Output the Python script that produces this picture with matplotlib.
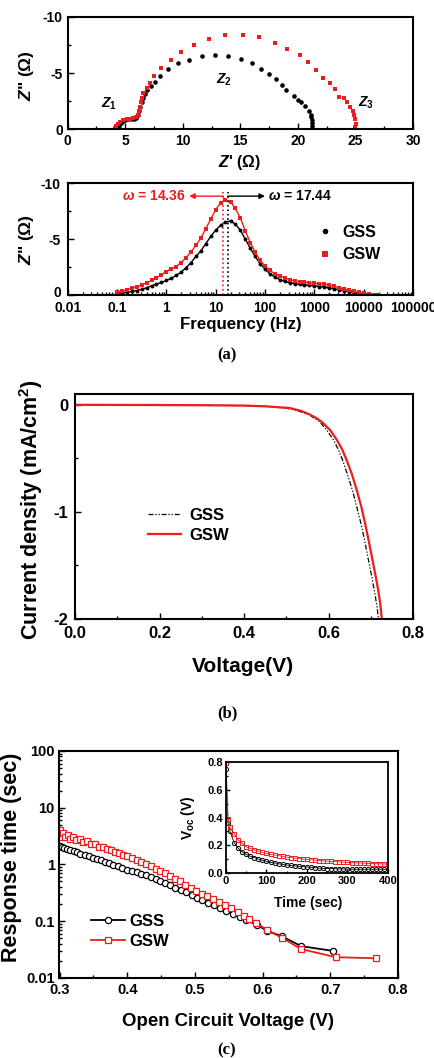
import matplotlib
matplotlib.use("Agg")
import matplotlib.pyplot as plt
import matplotlib.transforms as mtransforms
from matplotlib.ticker import FixedLocator, FixedFormatter, MultipleLocator, LogLocator, NullFormatter
from matplotlib.lines import Line2D

plt.rcParams['font.family'] = ['Liberation Sans', 'DejaVu Sans']
plt.rcParams['font.weight'] = 'bold'
plt.rcParams['mathtext.fontset'] = 'custom'
plt.rcParams['mathtext.rm'] = 'Liberation Sans:bold'
plt.rcParams['mathtext.it'] = 'Liberation Sans:bold:italic'
plt.rcParams['mathtext.bf'] = 'Liberation Sans:bold'

# ---------------- Panel (a) top: Nyquist ----------------
nyq_gss_re = [4.35, 4.45, 4.6, 4.8, 5.0, 5.25, 5.5, 5.75, 5.95, 6.1, 6.2, 6.3, 6.42, 6.55, 6.7, 6.86,
              7.2, 7.58, 8.02, 8.7, 9.6, 10.56, 11.63, 12.8, 13.97, 15.04, 16.05, 16.78, 17.5, 18.14,
              18.66, 19.0, 19.64, 20.05, 20.3, 20.6, 20.97, 21.1, 21.17, 21.2, 21.23, 21.23]
nyq_gss_im = [0.0, -0.3, -0.55, -0.72, -0.82, -0.88, -0.9, -0.95, -1.05, -1.3, -1.65, -2.0, -2.4, -2.8, -3.15, -3.5,
              -3.9, -4.22, -4.73, -5.35, -5.86, -6.21, -6.5, -6.66, -6.5, -6.24, -5.86, -5.33, -4.91, -4.44,
              -3.96, -3.49, -2.96, -2.6, -2.46, -2.07, -1.63, -1.3, -1.12, -0.8, -0.53, -0.3]
nyq_gsw_re = [4.12, 4.2, 4.35, 4.54, 4.8, 5.12, 5.4, 5.7, 5.95, 6.13, 6.2, 6.28, 6.36, 6.43, 6.57, 6.86,
              7.15, 7.5, 8.1, 8.94, 9.83, 11.0, 12.24, 13.68, 15.19, 16.63, 17.99, 19.09, 20.16, 20.88,
              21.6, 22.2, 22.8, 23.2, 23.6, 24.0, 24.3, 24.55, 24.75, 24.9, 25.0, 25.05, 24.95]
nyq_gsw_im = [-0.09, -0.3, -0.5, -0.67, -0.8, -0.89, -0.93, -0.98, -1.1, -1.27, -1.6, -2.0, -2.4, -2.75, -3.2, -3.64,
              -4.14, -4.73, -5.5, -6.21, -6.89, -7.54, -8.02, -8.4, -8.4, -8.25, -7.72, -7.19, -6.66, -5.95,
              -5.27, -4.6, -4.1, -3.55, -2.9, -2.75, -2.4, -2.0, -1.6, -1.25, -0.9, -0.5, -0.2]

# ---------------- Panel (a) bottom: Bode ----------------
freq = [0.1, 0.126, 0.158, 0.2, 0.251, 0.316, 0.398, 0.501, 0.631, 0.794,
        1.0, 1.26, 1.58, 2.0, 2.51, 3.16, 3.98, 5.01, 6.31, 7.94,
        10.0, 12.6, 15.8, 20.0, 25.1, 31.6, 39.8, 50.1, 63.1, 79.4,
        100, 126, 158, 200, 251, 316, 398, 501, 631, 794,
        1000, 1259, 1585, 1995, 2512, 3162, 3981, 5012, 6310, 7943,
        10000, 12589, 15849, 19953]
bode_gss = [-0.15, -0.2, -0.25, -0.32, -0.4, -0.5, -0.65, -0.82, -0.98, -1.12,
            -1.3, -1.5, -1.75, -2.05, -2.45, -2.9, -3.45, -3.95, -4.6, -5.25,
            -5.8, -6.25, -6.55, -6.62, -6.35, -5.8, -5.0, -4.2, -3.45, -2.8,
            -2.3, -1.9, -1.6, -1.38, -1.22, -1.1, -1.02, -0.95, -0.9, -0.86,
            -0.82, -0.76, -0.7, -0.63, -0.55, -0.47, -0.38, -0.3, -0.22, -0.15,
            -0.09, -0.05, -0.02, 0.0]
bode_gsw = [-0.28, -0.36, -0.46, -0.6, -0.75, -0.9, -1.1, -1.3, -1.55, -1.82,
            -2.1, -2.35, -2.55, -2.9, -3.35, -3.85, -4.45, -5.1, -5.95, -6.8,
            -7.65, -8.25, -8.5, -8.35, -7.75, -6.9, -5.75, -4.7, -3.85, -3.1,
            -2.6, -2.2, -1.9, -1.7, -1.52, -1.38, -1.26, -1.18, -1.12, -1.08,
            -1.05, -1.0, -0.95, -0.88, -0.78, -0.66, -0.54, -0.43, -0.33, -0.23,
            -0.15, -0.09, -0.03, 0.0]
omega_gss = 17.44
omega_gsw = 14.36

# ---------------- Panel (b): J-V ----------------
jv_v_gss = [0.0, 0.1, 0.2, 0.3, 0.4, 0.45, 0.5, 0.53, 0.556, 0.579, 0.595, 0.611, 0.623, 0.634, 0.646,
            0.658, 0.668, 0.678, 0.686, 0.694, 0.702, 0.709, 0.714, 0.717, 0.72]
jv_j_gss = [-0.001, -0.002, -0.003, -0.005, -0.008, -0.015, -0.032, -0.06, -0.1, -0.16, -0.235, -0.327, -0.42, -0.53, -0.67,
            -0.825, -0.98, -1.137, -1.29, -1.45, -1.61, -1.76, -1.88, -1.98, -2.05]
jv_v_gsw = [0.0, 0.1, 0.2, 0.3, 0.4, 0.45, 0.508, 0.535, 0.556, 0.573, 0.587, 0.604, 0.619, 0.631, 0.642,
            0.655, 0.666, 0.677, 0.686, 0.694, 0.702, 0.71, 0.717, 0.722, 0.725, 0.728]
jv_j_gsw = [-0.001, -0.002, -0.003, -0.005, -0.008, -0.015, -0.031, -0.058, -0.093, -0.13, -0.171, -0.24, -0.327, -0.41, -0.514,
            -0.65, -0.794, -0.95, -1.106, -1.26, -1.418, -1.58, -1.73, -1.86, -1.98, -2.05]

# ---------------- Panel (c): response time ----------------
voc_gss = [0.300, 0.303, 0.307, 0.311, 0.316, 0.321, 0.326, 0.331, 0.337, 0.343, 0.349, 0.355, 0.361, 0.367,
           0.373, 0.379, 0.386, 0.393, 0.400, 0.407, 0.414, 0.421, 0.428, 0.435, 0.442, 0.449, 0.456, 0.463,
           0.471, 0.479, 0.487, 0.495, 0.503, 0.511, 0.519, 0.528, 0.537, 0.546, 0.556, 0.566, 0.576, 0.591,
           0.607, 0.628, 0.657, 0.704]
tau_gss = [2.1, 2.0, 1.93, 1.86, 1.78, 1.7, 1.62, 1.55, 1.46, 1.38, 1.31, 1.24, 1.17, 1.1,
           1.04, 0.98, 0.92, 0.86, 0.81, 0.76, 0.72, 0.68, 0.64, 0.6, 0.56, 0.51, 0.47, 0.43,
           0.39, 0.35, 0.32, 0.29, 0.26, 0.235, 0.21, 0.19, 0.17, 0.15, 0.135, 0.118, 0.103, 0.086,
           0.067, 0.054, 0.036, 0.0297]
voc_gsw = [0.300, 0.302, 0.305, 0.308, 0.312, 0.316, 0.320, 0.325, 0.330, 0.335, 0.340, 0.346, 0.352, 0.358,
           0.364, 0.370, 0.376, 0.382, 0.388, 0.394, 0.400, 0.407, 0.414, 0.421, 0.428, 0.435, 0.442, 0.449,
           0.456, 0.463, 0.470, 0.478, 0.486, 0.494, 0.502, 0.510, 0.518, 0.527, 0.536, 0.545, 0.554, 0.564,
           0.572, 0.580, 0.590, 0.607, 0.628, 0.657, 0.708, 0.768]
tau_gsw = [4.0, 3.1, 3.6, 3.0, 3.3, 2.85, 3.05, 2.7, 2.8, 2.5, 2.55, 2.3, 2.3, 2.05,
           2.05, 1.85, 1.8, 1.65, 1.6, 1.48, 1.42, 1.3, 1.2, 1.1, 1.0, 0.92, 0.84, 0.76,
           0.69, 0.62, 0.56, 0.5, 0.44, 0.39, 0.345, 0.305, 0.275, 0.245, 0.215, 0.19, 0.168, 0.145,
           0.125, 0.108, 0.093, 0.069, 0.051, 0.032, 0.023, 0.022]

# inset: Voc decay
t_decay = [0, 5, 10, 20, 30, 40, 50, 60, 70, 80, 90, 100, 110, 120, 130, 140, 150, 160, 170, 180,
           190, 200, 210, 220, 230, 240, 250, 260, 270, 280, 290, 300, 310, 320, 330, 340, 350, 360,
           370, 380, 390, 400]
vdecay_gss = [0.75, 0.36, 0.3, 0.22, 0.18, 0.153, 0.135, 0.122, 0.112, 0.102, 0.093, 0.086, 0.079, 0.074,
              0.068, 0.064, 0.059, 0.056, 0.053, 0.05, 0.047, 0.045, 0.042, 0.04, 0.037, 0.035, 0.034,
              0.033, 0.032, 0.031, 0.031, 0.03, 0.029, 0.029, 0.029, 0.029, 0.029, 0.029, 0.029, 0.029,
              0.029, 0.029]
vdecay_gsw = [0.79, 0.39, 0.33, 0.285, 0.24, 0.215, 0.19, 0.178, 0.168, 0.16, 0.15, 0.143, 0.136, 0.131,
              0.126, 0.121, 0.116, 0.112, 0.109, 0.106, 0.102, 0.1, 0.097, 0.094, 0.091, 0.089, 0.087,
              0.085, 0.083, 0.082, 0.08, 0.078, 0.077, 0.075, 0.074, 0.073, 0.071, 0.07, 0.069, 0.068,
              0.067, 0.066]

RED = '#ee1c1c'
W, H = 435.0, 1058.0

fig = plt.figure(figsize=(4.35, 10.58), dpi=100)


def rect(l, t, r, b):
    return [l / W, 1 - b / H, (r - l) / W, (b - t) / H]


def ftext(x, y, s, **kw):
    fig.text(x / W, 1 - y / H, s, ha='center', va='center', **kw)


def style(ax, lw=1.5):
    for sp in ax.spines.values():
        sp.set_linewidth(lw)
    ax.tick_params(which='both', direction='in', width=1.0)
    ax.tick_params(which='major', length=4)
    ax.tick_params(which='minor', length=2.5)


# ---- (a) top
ax1 = fig.add_axes(rect(67.7, 17, 413, 129.3))
ax1.plot(nyq_gss_re, nyq_gss_im, 'o', color='black', ms=3.3, mew=0)
ax1.plot(nyq_gsw_re, nyq_gsw_im, 's', color=RED, ms=3.2, mew=0)
ax1.set_xlim(0, 30)
ax1.set_ylim(0, -10)
ax1.xaxis.set_major_locator(MultipleLocator(5))
ax1.xaxis.set_minor_locator(MultipleLocator(2.5))
ax1.yaxis.set_major_locator(FixedLocator([-10, -5, 0]))
ax1.yaxis.set_minor_locator(FixedLocator([-7.5, -2.5]))
ax1.yaxis.set_major_formatter(FixedFormatter(['-10', '-5', '0']))
style(ax1)
ax1.tick_params(labelsize=10)
ax1.text(3.6, -2.3, r'$Z_1$', fontsize=10, ha='center', va='center')
ax1.text(13.6, -4.4, r'$Z_2$', fontsize=10, ha='center', va='center')
ax1.text(25.9, -2.4, r'$Z_3$', fontsize=10, ha='center', va='center')
ftext(240, 163, r"$Z$' (Ω)", fontsize=11.5, fontweight='bold')
ftext(27, 76, r'$Z$" (Ω)', fontsize=12.5, fontweight='bold', rotation=90)

# ---- (a) bottom
ax2 = fig.add_axes(rect(67.7, 183.3, 413, 295))
ax2.plot(freq, bode_gss, '-o', color='black', lw=1.0, ms=2.8, mew=0)
ax2.plot(freq, bode_gsw, '-s', color=RED, lw=1.0, ms=2.8, mew=0)
ax2.set_xscale('log')
ax2.set_xlim(0.01, 100000)
ax2.set_ylim(0, -10)
ax2.xaxis.set_major_locator(FixedLocator([0.01, 0.1, 1, 10, 100, 1000, 10000, 100000]))
ax2.xaxis.set_major_formatter(FixedFormatter(['0.01', '0.1', '1', '10', '100', '1000', '10000', '100000']))
ax2.xaxis.set_minor_locator(LogLocator(base=10, subs=range(2, 10), numticks=20))
ax2.xaxis.set_minor_formatter(NullFormatter())
ax2.yaxis.set_major_locator(FixedLocator([-10, -5, 0]))
ax2.yaxis.set_minor_locator(FixedLocator([-7.5, -2.5]))
ax2.yaxis.set_major_formatter(FixedFormatter(['-10', '-5', '0']))
style(ax2)
ax2.tick_params(labelsize=10)
ax2.tick_params(axis='x', pad=4.0)
ax2.tick_params(axis='y', pad=5.0)
ax2.plot([omega_gsw, omega_gsw], [0, -9.2], ':', color=RED, lw=1.2)
ax2.plot([omega_gss, omega_gss], [0, -9.2], ':', color='black', lw=1.2)
ax2.annotate('', xy=(2.9, -8.85), xytext=(omega_gsw, -8.85),
             arrowprops=dict(arrowstyle='-|>', color=RED, lw=1.0, mutation_scale=8, shrinkA=0, shrinkB=0))
ax2.annotate('', xy=(100, -8.85), xytext=(omega_gss, -8.85),
             arrowprops=dict(arrowstyle='-|>', color='black', lw=1.0, mutation_scale=8, shrinkA=0, shrinkB=0))
ax2.text(2.5, -8.85, r'$\omega$ = 14.36', color=RED, fontsize=10, ha='right', va='center')
ax2.text(115, -8.85, r'$\omega$ = 17.44', color='black', fontsize=10, ha='left', va='center')
leg_handles = [Line2D([], [], ls='none', marker='o', color='black', ms=4, mew=0),
               Line2D([], [], ls='none', marker='s', color=RED, ms=3.8, mew=0)]
ax2.legend(leg_handles, ['GSS', 'GSW'], loc='center left', bbox_to_anchor=(0.68, 0.46), frameon=False,
           fontsize=11.5, handlelength=1.0, handletextpad=0.6, labelspacing=0.45)
ftext(241, 324, 'Frequency (Hz)', fontsize=12.2, fontweight='bold')
ftext(27, 240, r'$Z$" (Ω)', fontsize=12.5, fontweight='bold', rotation=90)
ftext(227, 355, '(a)', fontsize=12, fontweight='bold', family='Liberation Serif')
# nudge the bottom "0" label of the Bode plot up a little so it clears "0.01"
_up = mtransforms.ScaledTranslation(0, 2.5 / 72, fig.dpi_scale_trans)
for _lbl, _tk in zip(ax2.yaxis.get_majorticklabels(), [-10, -5, 0]):
    if _tk == 0:
        _lbl.set_transform(_lbl.get_transform() + _up)

# ---- (b)
ax3 = fig.add_axes(rect(75, 394, 413.3, 619))
ax3.plot(jv_v_gss, jv_j_gss, color='black', lw=0.9, dashes=(4, 1.5, 1, 1.5, 1, 1.5), label='GSS')
ax3.plot(jv_v_gsw, jv_j_gsw, color=RED, lw=1.6, label='GSW')
ax3.set_xlim(0, 0.8)
ax3.set_ylim(-2, 0.1)
ax3.xaxis.set_major_locator(FixedLocator([0.0, 0.2, 0.4, 0.6, 0.8]))
ax3.xaxis.set_major_formatter(FixedFormatter(['0.0', '0.2', '0.4', '0.6', '0.8']))
ax3.xaxis.set_minor_locator(FixedLocator([0.1, 0.3, 0.5, 0.7]))
ax3.yaxis.set_major_locator(FixedLocator([-2, -1, 0]))
ax3.yaxis.set_minor_locator(FixedLocator([-1.5, -0.5]))
ax3.yaxis.set_major_formatter(FixedFormatter(['-2', '-1', '0']))
style(ax3)
ax3.tick_params(labelsize=12)
ax3.tick_params(axis='x', pad=5)
ax3.tick_params(axis='y', pad=5)
ax3.legend(loc='upper left', bbox_to_anchor=(0.17, 0.56), frameon=False, fontsize=12,
           handlelength=2.0, handletextpad=0.5, labelspacing=0.3)
ftext(31, 510, r'Current density (mA/cm$^2$)', fontsize=15.5, fontweight='bold', rotation=90)
ftext(243, 667, 'Voltage(V)', fontsize=15, fontweight='bold')
ftext(227, 713, '(b)', fontsize=12, fontweight='bold', family='Liberation Serif')

# ---- (c)
ax4 = fig.add_axes(rect(59.5, 751, 398, 977.7))
ax4.plot(voc_gss, tau_gss, '-o', color='black', lw=1.3, ms=4.5, mfc='white', mec='black', mew=0.9, label='GSS')
ax4.plot(voc_gsw, tau_gsw, '-s', color=RED, lw=1.3, ms=4.5, mfc='white', mec=RED, mew=0.9, label='GSW')
ax4.set_yscale('log')
ax4.set_xlim(0.3, 0.8)
ax4.set_ylim(0.01, 100)
ax4.xaxis.set_major_locator(FixedLocator([0.3, 0.4, 0.5, 0.6, 0.7, 0.8]))
ax4.xaxis.set_major_formatter(FixedFormatter(['0.3', '0.4', '0.5', '0.6', '0.7', '0.8']))
ax4.xaxis.set_minor_locator(FixedLocator([0.35, 0.45, 0.55, 0.65, 0.75]))
ax4.yaxis.set_major_locator(FixedLocator([0.01, 0.1, 1, 10, 100]))
ax4.yaxis.set_major_formatter(FixedFormatter(['0.01', '0.1', '1', '10', '100']))
ax4.yaxis.set_minor_locator(LogLocator(base=10, subs=range(2, 10), numticks=20))
ax4.yaxis.set_minor_formatter(NullFormatter())
style(ax4)
ax4.tick_params(labelsize=10.5)
ax4.legend(loc='lower left', bbox_to_anchor=(0.05, 0.06), frameon=False, fontsize=12,
           handlelength=2.0, handletextpad=0.3, labelspacing=0.3)
ftext(12, 857, 'Response time (sec)', fontsize=15.5, fontweight='bold', rotation=90)
ftext(228, 1022, 'Open Circuit Voltage (V)', fontsize=13.4, fontweight='bold')
ftext(227, 1050, '(c)', fontsize=12, fontweight='bold', family='Liberation Serif')

# inset
ax5 = fig.add_axes(rect(226, 761.7, 388, 873.3))
ax5.plot(t_decay, vdecay_gss, '-o', color='black', lw=0.6, ms=3.0, mfc='none', mec='black', mew=0.7)
ax5.plot(t_decay, vdecay_gsw, '-s', color=RED, lw=0.6, ms=3.0, mfc='none', mec=RED, mew=0.7)
ax5.set_xlim(0, 400)
ax5.set_ylim(0, 0.8)
ax5.xaxis.set_major_locator(FixedLocator([0, 100, 200, 300, 400]))
ax5.xaxis.set_minor_locator(FixedLocator([50, 150, 250, 350]))
ax5.yaxis.set_major_locator(FixedLocator([0.0, 0.2, 0.4, 0.6, 0.8]))
ax5.yaxis.set_major_formatter(FixedFormatter(['0.0', '0.2', '0.4', '0.6', '0.8']))
ax5.yaxis.set_minor_locator(FixedLocator([0.1, 0.3, 0.5, 0.7]))
style(ax5, lw=1.3)
ax5.tick_params(labelsize=8, pad=2)
ax5.tick_params(which='major', length=3)
ax5.tick_params(which='minor', length=1.5)
ftext(308, 903, 'Time (sec)', fontsize=10, fontweight='bold')
ftext(188, 818, r'V$_{\rm oc}$ (V)', fontsize=10, fontweight='bold', rotation=90)

fig.savefig('out.png', dpi=100)
